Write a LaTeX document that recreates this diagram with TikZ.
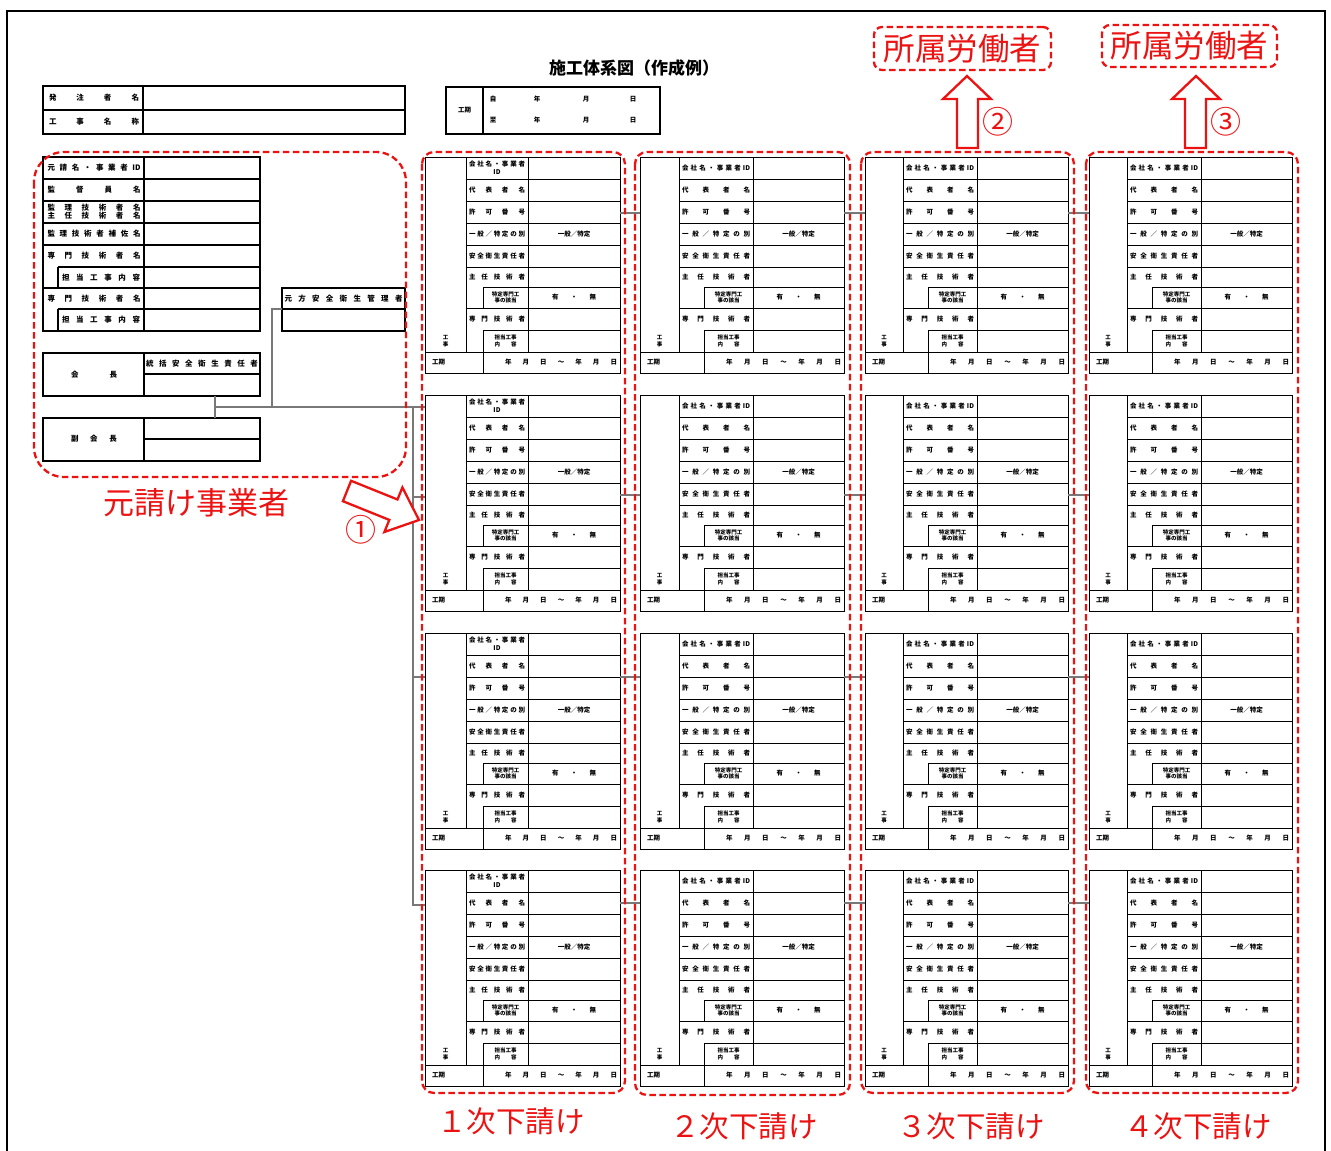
\documentclass[tikz,border=0pt]{standalone}
\usepackage{fontspec}
\setmainfont{Noto Sans CJK JP}
\definecolor{annored}{RGB}{236,18,18}
\definecolor{connc}{RGB}{120,120,120}
\makeatletter
\def\spreadchars#1{\spc@a#1\@nil}
\def\spc@a#1#2\@nil{#1\if\relax\detokenize{#2}\relax\else\hfill\spc@a#2\@nil\fi}
\makeatother
\newcommand\spr[2]{\makebox[#1][s]{\spreadchars{#2}}}
% #1 name, #2 x0, #3 y0, #4 narrow col, #5 indent, #6 label end, #7 right, #8 first label
\newcommand\subform[8]{%
\begin{scope}[shift={(#2,#3)}]
\pgfmathsetmacro\lc{(#4+#6)/2}\pgfmathsetmacro\lw{#6-#4-6}%
\pgfmathsetmacro\ic{(#5+#6)/2}\pgfmathsetmacro\vc{(#6+#7)/2}%
\pgfmathsetmacro\kc{(#5+22+#7-3)/2}\pgfmathsetmacro\kw{#7-#5-25}%
\pgfmathsetmacro\nc{#4/2}%
\draw[frm] (0,0) rectangle (#7,216);
\draw[frm] (#4,0) -- (#4,195) (#6,0) -- (#6,195);
\foreach \yy in {22,44,66,88,110,151} {\draw[frm] (#4,\yy) -- (#7,\yy);}
\draw[frm] (#5,130) -- (#7,130) (#5,173) -- (#7,173);
\draw[frm] (#5,130) -- (#5,151) (#5,173) -- (#5,216);
\draw[frm] (0,195) -- (#7,195);
\node[lab] (#1-1) at (\lc,11) {#8};
\node[lab] (#1-2) at (\lc,33) {\spr{\lw pt}{代表者名}};
\node[lab] (#1-3) at (\lc,55) {\spr{\lw pt}{許可番号}};
\node[lab] (#1-4) at (\lc,77) {\spr{\lw pt}{一般／特定の別}};
\node[lab] (#1-4v) at (\vc,77) {一般／特定};
\node[lab] (#1-5) at (\lc,99) {\spr{\lw pt}{安全衛生責任者}};
\node[lab] (#1-6) at (\lc,120) {\spr{\lw pt}{主任技術者}};
\node[lab,smalllab] (#1-7) at (\ic,140.5) {特定専門工\\事の該当};
\node[lab] (#1-7v) at (\vc,140.5) {\spr{44pt}{有・無}};
\node[lab] (#1-8) at (\lc,162) {\spr{\lw pt}{専門技術者}};
\node[lab,smalllab] (#1-9) at (\ic,184) {担当工事\\\spr{22pt}{内容}};
\node[lab,smalllab] (#1-k) at (\nc,184) {工\\事};
\node[lab,anchor=west] (#1-t) at (7,205.5) {工期};
\node[lab] (#1-tv) at (\kc,205.5) {\spr{\kw pt}{年月日～年月日}};
\end{scope}}
\begin{document}
\begin{tikzpicture}[x=1pt,y=-1pt,
 frm/.style={draw=black,line width=1pt},
 frmb/.style={draw=black,line width=1.2pt},
 lab/.style={inner sep=0pt,align=center,font=\bfseries\fontsize{6.5}{8}\selectfont},
 biglab/.style={inner sep=0pt,align=center,font=\bfseries\fontsize{7.5}{9.5}\selectfont},
 smalllab/.style={font=\bfseries\fontsize{5.5}{6.8}\selectfont},
 redbox/.style={draw=annored,line width=2.3pt,dash pattern=on 6.5pt off 3.5pt,rounded corners=12pt},
 conn/.style={draw=connc,line width=1.1pt},
 redtxt/.style={text=annored,inner sep=0pt},
 blockarrow/.style={draw=annored,line width=2.3pt,fill=white,line join=miter}]
\useasboundingbox (0,0) rectangle (1331,1151);
\fill[white] (0,0) rectangle (1331,1151);
\draw[line width=2.5pt] (7,1160) -- (7,11) -- (1325,11) -- (1325,1160);

% title
\node[inner sep=0pt,font=\bfseries\fontsize{17}{20}\selectfont] (title) at (634,68) {施工体系図（作成例）};

% top-left table
\draw[frmb] (43,86) rectangle (405,134);
\draw[frmb] (43,110) -- (405,110) (143,86) -- (143,134);
\node[biglab] (t-1) at (94,98) {\spr{90pt}{発注者名}};
\node[biglab] (t-2) at (94,122) {\spr{90pt}{工事名称}};

% koki box
\draw[frmb] (446,87) rectangle (660,134);
\draw[frmb] (483,87) -- (483,134);
\node[lab] (k-0) at (464.5,110) {工期};
\foreach \yy/\ff/\nm in {99/自/a,120/至/b}{
 \node[lab] (k-\nm1) at (493,\yy) {\ff};
 \node[lab] (k-\nm2) at (537,\yy) {年};
 \node[lab] (k-\nm3) at (586,\yy) {月};
 \node[lab] (k-\nm4) at (633,\yy) {日};
}

% main contractor table
\draw[frmb] (43,157) rectangle (260,331);
\draw[frmb] (144,157) -- (144,331);
\foreach \yy in {179,201,223,245,288} {\draw[frmb] (43,\yy) -- (260,\yy);}
\draw[frmb] (58,267) -- (260,267) (58,309) -- (260,309);
\draw[frmb] (58,267) -- (58,288) (58,309) -- (58,331);
\node[biglab] (m-1) at (94,168) {\spr{93pt}{元請名・事業者{{ID}}}};
\node[biglab] (m-2) at (94,190) {\spr{93pt}{監督員名}};
\node[biglab] (m-3) at (94,212) {\spr{93pt}{監理技術者名}\\[-1.5pt]\spr{93pt}{主任技術者名}};
\node[biglab] (m-4) at (94,234) {\spr{93pt}{監理技術者補佐名}};
\node[biglab] (m-5) at (94,256) {\spr{93pt}{専門技術者名}};
\node[biglab] (m-6) at (101,277.5) {\spr{78pt}{担当工事内容}};
\node[biglab] (m-7) at (94,298.5) {\spr{93pt}{専門技術者名}};
\node[biglab] (m-8) at (101,320) {\spr{78pt}{担当工事内容}};

% moto-kata box
\draw[frmb] (282,288) rectangle (405,331);
\draw[frmb] (282,309) -- (405,309);
\node[biglab] (g-1) at (343.5,298.5) {\spr{118pt}{元方安全衛生管理者}};

% kaicho
\draw[frmb] (43,353) rectangle (260,396);
\draw[frmb] (144,353) -- (144,396) (144,374) -- (260,374);
\node[biglab] (h-1) at (94,375) {\spr{46pt}{会長}};
\node[biglab] (h-2) at (202,363.5) {\spr{112pt}{統括安全衛生責任者}};
% fuku-kaicho
\draw[frmb] (43,418) rectangle (260,461);
\draw[frmb] (144,418) -- (144,461) (144,439) -- (260,439);
\node[biglab] (h-3) at (94,439) {\spr{46pt}{副会長}};

% subcontractor forms
\foreach \r/\yy in {1/157,2/395,3/633,4/870}{
 \subform{fa\r}{425}{\yy}{41}{58}{103}{195}{\spr{\lw pt}{会社名・事業者}\\ID}
 \subform{fb\r}{640}{\yy}{39}{64}{113}{204}{\spr{\lw pt}{会社名・事業者{{ID}}}}
 \subform{fc\r}{865}{\yy}{38}{63}{112}{203}{\spr{\lw pt}{会社名・事業者{{ID}}}}
 \subform{fd\r}{1089}{\yy}{38}{63}{112}{203}{\spr{\lw pt}{会社名・事業者{{ID}}}}
}

% connectors between forms
\foreach \r/\ys in {1/213,2/495,3/677,4/903}{
 \coordinate (a\r) at (620,\ys); \coordinate (b\r) at (640,\ys);
 \coordinate (c\r) at (844,\ys); \coordinate (d\r) at (865,\ys);
 \coordinate (e\r) at (1068,\ys); \coordinate (g\r) at (1089,\ys);
 \draw[conn] (a\r) -- (b\r) (c\r) -- (d\r) (e\r) -- (g\r);
}
% left connectors
\coordinate (p1) at (282,309); \coordinate (p2) at (272,309); \coordinate (p3) at (272,407);
\coordinate (q1) at (215,396); \coordinate (q2) at (215,418); \coordinate (q3) at (215,407);
\coordinate (s0) at (413,407); \coordinate (s0e) at (425,407);
\coordinate (s2) at (413,497); \coordinate (s2e) at (425,497);
\coordinate (s3) at (413,677); \coordinate (s3e) at (425,677);
\coordinate (s4) at (413,905); \coordinate (s4e) at (425,905);
\draw[conn] (p1) -- (p2) -- (p3);
\draw[conn] (q1) -- (q2);
\draw[conn] (q3) -- (s0e);
\draw[conn] (s0) -- (s4) -- (s4e);
\draw[conn] (s2) -- (s2e) (s3) -- (s3e);

% red dashed groups
\draw[redbox,rounded corners=30pt] (34,152) rectangle (406,477);
\draw[redbox] (422,152) rectangle (625,1093);
\draw[redbox] (635,152) rectangle (850,1095);
\draw[redbox] (861,152) rectangle (1074,1093);
\draw[redbox] (1086,152) rectangle (1298,1093);

% red labels
\node[redtxt,font=\fontsize{31}{33}\selectfont] (lab0) at (196,503) {元請け事業者};
\node[redtxt,font=\fontsize{29.5}{31}\selectfont] (lab1) at (511,1121) {１次下請け};
\node[redtxt,font=\fontsize{29.5}{31}\selectfont] (lab2) at (744,1126) {２次下請け};
\node[redtxt,font=\fontsize{29.5}{31}\selectfont] (lab3) at (971,1126) {３次下請け};
\node[redtxt,font=\fontsize{29.5}{31}\selectfont] (lab4) at (1198,1126) {４次下請け};

\node[redbox,rounded corners=8pt,minimum width=177pt,minimum height=43pt,inner sep=0pt,text=annored,font=\fontsize{31.5}{33}\selectfont] (w1) at (962.5,48.5) {所属労働者};
\node[redbox,rounded corners=8pt,minimum width=175pt,minimum height=42pt,inner sep=0pt,text=annored,font=\fontsize{31.5}{33}\selectfont] (w2) at (1189.5,46) {所属労働者};

% block arrows
\draw[blockarrow] (351.1,480.8) -- (397.5,499.5) -- (402.4,487.4) -- (419,520) -- (384.4,532.0) -- (389.3,519.9) -- (342.9,501.2) -- cycle;
\draw[blockarrow] (957,148) -- (957,99) -- (943,99) -- (967,76) -- (991,99) -- (978,99) -- (978,148) -- cycle;
\draw[blockarrow] (1185,148) -- (1185,99) -- (1172,99) -- (1196,76) -- (1220,99) -- (1206,99) -- (1206,148) -- cycle;

\node[redtxt,font=\fontsize{31}{33}\selectfont] (n1) at (361,530) {①};
\node[redtxt,font=\fontsize{31}{33}\selectfont] (n2) at (998,122) {②};
\node[redtxt,font=\fontsize{31}{33}\selectfont] (n3) at (1226,122) {③};
\end{tikzpicture}
\end{document}
